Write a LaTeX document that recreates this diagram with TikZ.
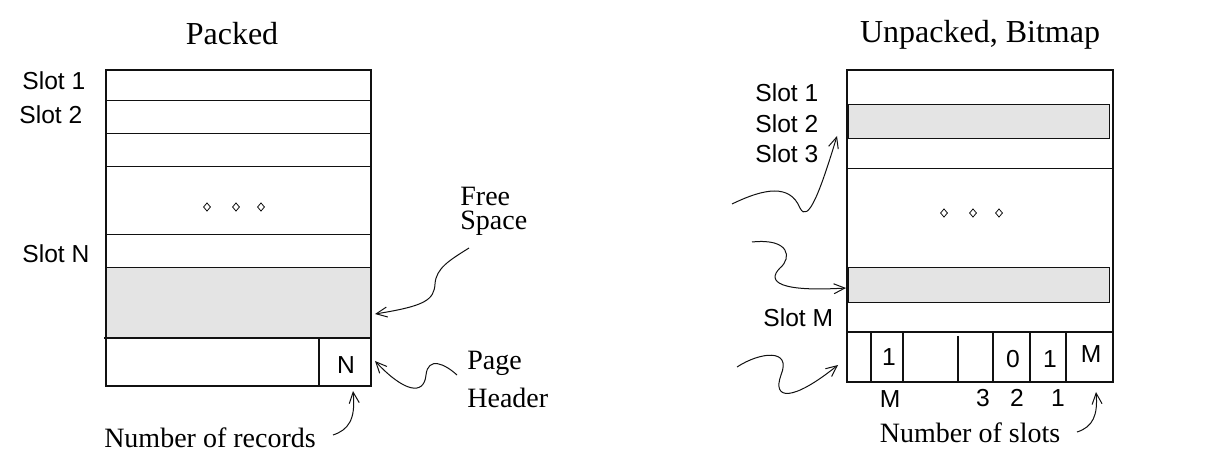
\documentclass[tikz,border=0pt]{standalone}
\usepackage{fontspec}
\setmainfont{Liberation Serif}
\setsansfont{Liberation Sans}
\usepackage{tikz}
\usetikzlibrary{arrows.meta,shapes.geometric}
\usepackage{xcolor}
\definecolor{FreeGray}{HTML}{E4E4E4}
\definecolor{Ink}{HTML}{111111}

\begin{document}
\begin{tikzpicture}[x=0.5pt,y=-0.5pt,line join=miter,
    frame/.style={draw=Ink,line width=1.05pt},
    rule/.style={draw=Ink,line width=0.5pt},
    heading/.style={font=\fontsize{16}{18}\selectfont,inner sep=0pt,anchor=base},
    note/.style={font=\fontsize{14}{16}\selectfont,inner sep=0pt},
    slotlbl/.style={font=\sffamily\fontsize{12.3}{14}\selectfont,inner sep=0pt,anchor=base west},
    bitlbl/.style={font=\sffamily\fontsize{12.3}{14}\selectfont,inner sep=0pt,anchor=base},
    dotmark/.style={draw=Ink,shape=diamond,line width=0.4pt,inner sep=0pt,
                    minimum width=3.6pt,minimum height=4.2pt},
    squiggle/.style={draw=Ink,line width=0.5pt,-{Straight Barb[length=5.5pt,width=5pt]}}]
  \useasboundingbox (0,0) rectangle (1220,464);

  \node[heading] (ttlPacked) at (232,45) {Packed};
  \fill[FreeGray] (106,268) rectangle (371,338);
  \foreach \y in {101,134,167,235,268}
    \draw[rule] (106,\y) -- (371,\y);
  \draw[frame] (104,338) -- (371,338);
  \draw[frame] (319,338) -- (319,386);
  \draw[frame] (106,70) rectangle (371,386);
  \foreach \x [count=\i] in {207,236,261}
    \node[dotmark] (pdot\i) at (\x,207) {};
  \node[slotlbl] (pSlotA) at (22,90) {Slot 1};
  \node[slotlbl] (pSlotB) at (19,124) {Slot 2};
  \node[slotlbl] (pSlotN) at (22,263) {Slot N};
  \node[bitlbl] (cntN) at (346,373) {N};
  \node[note,anchor=base west,align=left,font=\fontsize{14}{12}\selectfont]
    (noteFree) at (460,230) {Free\\Space};
  \node[note,anchor=base west,align=left,font=\fontsize{14}{19}\selectfont]
    (notePage) at (467,408) {Page\\Header};
  \node[note,anchor=base] (noteRecords) at (210,447) {Number of records};

  \coordinate (freeTail) at (469,248);
  \coordinate (freeTip) at (375,314);
  \coordinate (pageTail) at (457,375);
  \coordinate (pageTip) at (375,361);
  \coordinate (recTail) at (333,435);
  \coordinate (recTip) at (353,391);
  \draw[squiggle] (freeTail) .. controls (450,260) and (436,268) .. (435,284)
    .. controls (434,300) and (425,306) .. (freeTip);
  \draw[squiggle] (pageTail) .. controls (445,364) and (428,356) .. (426,375)
    .. controls (424,396) and (404,392) .. (pageTip);
  \draw[squiggle] (recTail) .. controls (348,430) and (356,420) .. (recTip);

  \node[heading] (ttlBitmap) at (980,43) {Unpacked, Bitmap};
  \filldraw[fill=FreeGray,rule] (848,105) rectangle (1109,139);
  \filldraw[fill=FreeGray,rule] (848,268) rectangle (1109,303);
  \draw[rule] (847,169) -- (1113,169);
  \draw[frame] (847,332) -- (1113,332);
  \foreach \x in {871,903,993,1030,1066}
    \draw[frame] (\x,332) -- (\x,382);
  \draw[frame] (958,336) -- (958,382);
  \draw[frame] (847,70) rectangle (1113,382);
  \foreach \x [count=\i] in {944,973,999}
    \node[dotmark] (udot\i) at (\x,213) {};
  \node[slotlbl] (uSlotA) at (755,102) {Slot 1};
  \node[slotlbl] (uSlotB) at (755,133) {Slot 2};
  \node[slotlbl] (uSlotC) at (755,163) {Slot 3};
  \node[slotlbl] (uSlotM) at (763,327) {Slot M};
  \node[bitlbl] (bitM) at (889,365) {1};
  \node[bitlbl] (bitC) at (1013,368) {0};
  \node[bitlbl] (bitB) at (1050,368) {1};
  \node[bitlbl] (bitCount) at (1091,363) {M};
  \node[bitlbl] (idxM) at (890,408) {M};
  \node[bitlbl] (idxC) at (983,407) {3};
  \node[bitlbl] (idxB) at (1017,407) {2};
  \node[bitlbl] (idxA) at (1058,407) {1};
  \node[note,anchor=base] (noteSlots) at (970,443) {Number of slots};

  \coordinate (wavyA) at (732,204);
  \coordinate (wavyATip) at (837,136);
  \coordinate (wavyB) at (752,242);
  \coordinate (wavyBTip) at (846,288);
  \coordinate (wavyC) at (737,367);
  \coordinate (wavyCTip) at (838,365);
  \coordinate (slotsTail) at (1077,432);
  \coordinate (slotsTip) at (1096,392);
  \draw[squiggle] (wavyA) .. controls (765,188) and (790,184) .. (800,208)
    .. controls (808,224) and (820,192) .. (wavyATip);
  \draw[squiggle] (wavyB) .. controls (790,238) and (792,258) .. (780,268)
    .. controls (766,282) and (780,292) .. (wavyBTip);
  \draw[squiggle] (wavyC) .. controls (760,352) and (792,348) .. (781,375)
    .. controls (772,400) and (792,402) .. (wavyCTip);
  \draw[squiggle] (slotsTail) .. controls (1093,427) and (1098,415) .. (slotsTip);
\end{tikzpicture}
\end{document}
